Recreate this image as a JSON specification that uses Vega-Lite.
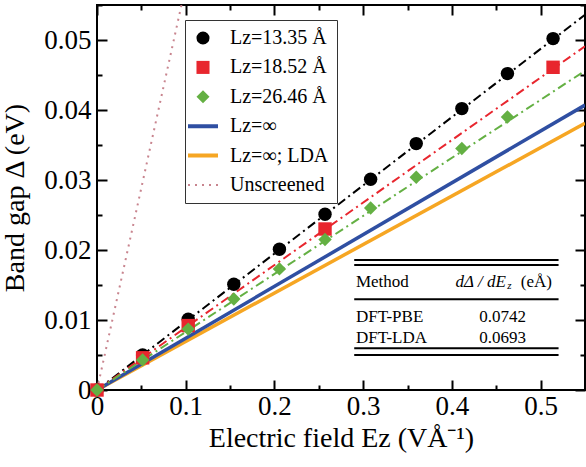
{
  "$schema": "https://vega.github.io/schema/vega-lite/v6.json",
  "width": 488,
  "height": 385,
  "autosize": "none",
  "padding": {"left": 97, "top": 5, "right": 1, "bottom": 77},
  "background": "white",
  "config": {
    "view": {"stroke": "black", "strokeWidth": 2},
    "axis": {
      "labelFont": "Liberation Serif", "labelFontSize": 27, "labelColor": "black",
      "titleFont": "Liberation Serif", "titleFontSize": 28, "titleFontWeight": "normal", "titleColor": "black",
      "tickColor": "black", "tickWidth": 2, "domain": false, "grid": false, "ticks": true
    },
    "legend": {
      "orient": "none", "legendX": 88, "legendY": 15, "title": null,
      "strokeColor": "#333333", "fillColor": "white", "padding": 8,
      "symbolSize": 900, "labelFont": "Liberation Serif", "labelFontSize": 20, "labelColor": "black",
      "labelOffset": 17, "rowPadding": 9.4
    },
    "text": {"font": "Liberation Serif", "fontSize": 17, "color": "black"}
  },
  "data": {"values": [
    {"s": "Lz=13.35 Å", "k": "pt", "x": 0, "y": 0},
    {"s": "Lz=13.35 Å", "k": "pt", "x": 0.0514, "y": 0.0050},
    {"s": "Lz=13.35 Å", "k": "pt", "x": 0.1028, "y": 0.0101},
    {"s": "Lz=13.35 Å", "k": "pt", "x": 0.1542, "y": 0.0151},
    {"s": "Lz=13.35 Å", "k": "pt", "x": 0.2056, "y": 0.0201},
    {"s": "Lz=13.35 Å", "k": "pt", "x": 0.257, "y": 0.0251},
    {"s": "Lz=13.35 Å", "k": "pt", "x": 0.3084, "y": 0.0301},
    {"s": "Lz=13.35 Å", "k": "pt", "x": 0.3598, "y": 0.0352},
    {"s": "Lz=13.35 Å", "k": "pt", "x": 0.4112, "y": 0.0402},
    {"s": "Lz=13.35 Å", "k": "pt", "x": 0.4626, "y": 0.0452},
    {"s": "Lz=13.35 Å", "k": "pt", "x": 0.514, "y": 0.0502},
    {"s": "Lz=18.52 Å", "k": "pt", "x": 0, "y": 0},
    {"s": "Lz=18.52 Å", "k": "pt", "x": 0.0514, "y": 0.0046},
    {"s": "Lz=18.52 Å", "k": "pt", "x": 0.1028, "y": 0.0092},
    {"s": "Lz=18.52 Å", "k": "pt", "x": 0.257, "y": 0.0230},
    {"s": "Lz=18.52 Å", "k": "pt", "x": 0.514, "y": 0.0461},
    {"s": "Lz=26.46 Å", "k": "pt", "x": 0, "y": 0},
    {"s": "Lz=26.46 Å", "k": "pt", "x": 0.0514, "y": 0.0043},
    {"s": "Lz=26.46 Å", "k": "pt", "x": 0.1028, "y": 0.0087},
    {"s": "Lz=26.46 Å", "k": "pt", "x": 0.1542, "y": 0.0130},
    {"s": "Lz=26.46 Å", "k": "pt", "x": 0.2056, "y": 0.0173},
    {"s": "Lz=26.46 Å", "k": "pt", "x": 0.257, "y": 0.0215},
    {"s": "Lz=26.46 Å", "k": "pt", "x": 0.3084, "y": 0.0260},
    {"s": "Lz=26.46 Å", "k": "pt", "x": 0.3598, "y": 0.0304},
    {"s": "Lz=26.46 Å", "k": "pt", "x": 0.4112, "y": 0.0345},
    {"s": "Lz=26.46 Å", "k": "pt", "x": 0.4626, "y": 0.0390},
    {"s": "Lz=13.35 Å", "k": "fit", "x": 0, "y": 0},
    {"s": "Lz=13.35 Å", "k": "fit", "x": 0.55, "y": 0.0536},
    {"s": "Lz=18.52 Å", "k": "fit", "x": 0, "y": 0},
    {"s": "Lz=18.52 Å", "k": "fit", "x": 0.55, "y": 0.0491},
    {"s": "Lz=26.46 Å", "k": "fit", "x": 0, "y": 0},
    {"s": "Lz=26.46 Å", "k": "fit", "x": 0.55, "y": 0.0456},
    {"s": "Lz=∞; LDA", "k": "line", "x": 0, "y": 0},
    {"s": "Lz=∞; LDA", "k": "line", "x": 0.55, "y": 0.0381},
    {"s": "Lz=∞", "k": "line", "x": 0, "y": 0},
    {"s": "Lz=∞", "k": "line", "x": 0.55, "y": 0.0407},
    {"s": "Unscreened", "k": "dot", "x": 0, "y": 0},
    {"s": "Unscreened", "k": "dot", "x": 0.0952, "y": 0.055}
  ]},
  "resolve": {"axis": {"x": "independent", "y": "independent"}},
  "layer": [
    {
      "transform": [{"filter": "datum.k == 'line'"}],
      "mark": {"type": "line", "strokeWidth": 3.5, "clip": true},
      "encoding": {
        "x": {"field": "x", "type": "quantitative",
          "scale": {"domain": [0, 0.55], "nice": false, "zero": false},
          "axis": {
            "orient": "bottom", "values": [0, 0.1, 0.2, 0.3, 0.4, 0.5], "format": "~g",
            "tickSize": -10, "labelPadding": 13, "labelFlush": false, "labelOverlap": false, "labelBound": false,
            "title": "Electric field Ez (VÅ⁻¹)", "titlePadding": 5
          }
        },
        "y": {"field": "y", "type": "quantitative",
          "scale": {"domain": [0, 0.055], "nice": false, "zero": false},
          "axis": {
            "orient": "left", "values": [0, 0.01, 0.02, 0.03, 0.04, 0.05], "format": "~g",
            "tickSize": -10, "labelPadding": 16, "labelFlush": false, "labelOverlap": false, "labelBound": false,
            "title": "Band gap Δ (eV)", "titlePadding": 14
          }
        },
        "color": {"field": "s", "type": "nominal",
          "legend": {
            "orient": "none", "legendX": 88, "legendY": 15,
            "encode": {"symbols": {"update": {
              "shape": {"signal": "scale('shape', datum.value)"},
              "size": {"signal": "indexof(['Lz=∞','Lz=∞; LDA','Unscreened'], datum.value) >= 0 ? 900 : 170"},
              "fill": {"signal": "scale('color', datum.value)"},
              "stroke": {"signal": "scale('color', datum.value)"},
              "strokeWidth": {"signal": "datum.value == 'Unscreened' ? 2 : (indexof(['Lz=∞','Lz=∞; LDA'], datum.value) >= 0 ? 4 : 0)"},
              "strokeDash": {"signal": "datum.value == 'Unscreened' ? [2,5] : [1,0]"},
              "opacity": {"value": 1}
            }}}
          }
        },
        "detail": {"field": "s"}
      }
    },
    {
      "transform": [{"filter": "datum.k == 'fit'"}],
      "mark": {"type": "line", "strokeWidth": 2, "strokeDash": [9, 4, 2, 4], "clip": true},
      "encoding": {
        "x": {"field": "x", "type": "quantitative",
          "axis": {"orient": "top", "labels": false, "title": null, "values": [0, 0.1, 0.2, 0.3, 0.4, 0.5], "tickSize": -10}
        },
        "y": {"field": "y", "type": "quantitative",
          "axis": {"orient": "right", "labels": false, "title": null, "values": [0, 0.01, 0.02, 0.03, 0.04, 0.05], "tickSize": -10}
        },
        "color": {"field": "s", "type": "nominal",
          "legend": {
            "orient": "none", "legendX": 88, "legendY": 15,
            "encode": {"symbols": {"update": {
              "shape": {"signal": "scale('shape', datum.value)"},
              "size": {"signal": "indexof(['Lz=∞','Lz=∞; LDA','Unscreened'], datum.value) >= 0 ? 900 : 170"},
              "fill": {"signal": "scale('color', datum.value)"},
              "stroke": {"signal": "scale('color', datum.value)"},
              "strokeWidth": {"signal": "datum.value == 'Unscreened' ? 2 : (indexof(['Lz=∞','Lz=∞; LDA'], datum.value) >= 0 ? 4 : 0)"},
              "strokeDash": {"signal": "datum.value == 'Unscreened' ? [2,5] : [1,0]"},
              "opacity": {"value": 1}
            }}}
          }
        },
        "detail": {"field": "s"}
      }
    },
    {
      "transform": [{"filter": "datum.k == 'dot'"}],
      "mark": {"type": "line", "strokeWidth": 2, "strokeDash": [2, 5], "clip": true},
      "encoding": {
        "x": {"field": "x", "type": "quantitative",
          "axis": {"orient": "bottom", "labels": false, "title": null, "values": [0.05, 0.15, 0.25, 0.35, 0.45, 0.55], "tickSize": -5}
        },
        "y": {"field": "y", "type": "quantitative",
          "axis": {"orient": "left", "labels": false, "title": null, "values": [0.005, 0.015, 0.025, 0.035, 0.045, 0.055], "tickSize": -5}
        },
        "color": {"field": "s", "type": "nominal",
          "legend": {
            "orient": "none", "legendX": 88, "legendY": 15,
            "encode": {"symbols": {"update": {
              "shape": {"signal": "scale('shape', datum.value)"},
              "size": {"signal": "indexof(['Lz=∞','Lz=∞; LDA','Unscreened'], datum.value) >= 0 ? 900 : 170"},
              "fill": {"signal": "scale('color', datum.value)"},
              "stroke": {"signal": "scale('color', datum.value)"},
              "strokeWidth": {"signal": "datum.value == 'Unscreened' ? 2 : (indexof(['Lz=∞','Lz=∞; LDA'], datum.value) >= 0 ? 4 : 0)"},
              "strokeDash": {"signal": "datum.value == 'Unscreened' ? [2,5] : [1,0]"},
              "opacity": {"value": 1}
            }}}
          }
        }
      }
    },
    {
      "transform": [{"filter": "datum.k == 'pt'"}],
      "mark": {"type": "point", "filled": true, "opacity": 1, "size": 180, "clip": false},
      "encoding": {
        "x": {"field": "x", "type": "quantitative",
          "axis": {"orient": "top", "labels": false, "title": null, "values": [0.05, 0.15, 0.25, 0.35, 0.45, 0.55], "tickSize": -5}
        },
        "y": {"field": "y", "type": "quantitative",
          "axis": {"orient": "right", "labels": false, "title": null, "values": [0.005, 0.015, 0.025, 0.035, 0.045, 0.055], "tickSize": -5}
        },
        "color": {"field": "s", "type": "nominal",
          "scale": {
            "domain": ["Lz=13.35 Å", "Lz=18.52 Å", "Lz=26.46 Å", "Lz=∞", "Lz=∞; LDA", "Unscreened"],
            "range": ["#000000", "#e8262e", "#64b043", "#2f4fa2", "#f6a623", "#c8848e"]
          },
          "legend": {
            "orient": "none", "legendX": 88, "legendY": 15,
            "encode": {"symbols": {"update": {
              "shape": {"signal": "scale('shape', datum.value)"},
              "size": {"signal": "indexof(['Lz=∞','Lz=∞; LDA','Unscreened'], datum.value) >= 0 ? 900 : 170"},
              "fill": {"signal": "scale('color', datum.value)"},
              "stroke": {"signal": "scale('color', datum.value)"},
              "strokeWidth": {"signal": "datum.value == 'Unscreened' ? 2 : (indexof(['Lz=∞','Lz=∞; LDA'], datum.value) >= 0 ? 4 : 0)"},
              "strokeDash": {"signal": "datum.value == 'Unscreened' ? [2,5] : [1,0]"},
              "opacity": {"value": 1}
            }}}
          }
        },
        "shape": {"field": "s", "type": "nominal",
          "scale": {
            "domain": ["Lz=13.35 Å", "Lz=18.52 Å", "Lz=26.46 Å", "Lz=∞", "Lz=∞; LDA", "Unscreened"],
            "range": ["circle", "square", "diamond", "stroke", "stroke", "stroke"]
          }
        }
      }
    },
    {"data": {"values": [{}]}, "mark": {"type": "rule", "strokeWidth": 2, "color": "black"},
     "encoding": {"x": {"datum": 0.2899, "type": "quantitative", "axis": null}, "x2": {"datum": 0.5202}, "y": {"datum": 0.01857, "type": "quantitative", "axis": null}}},
    {"data": {"values": [{}]}, "mark": {"type": "rule", "strokeWidth": 2, "color": "black"},
     "encoding": {"x": {"datum": 0.2899, "type": "quantitative", "axis": null}, "x2": {"datum": 0.5202}, "y": {"datum": 0.01786, "type": "quantitative", "axis": null}}},
    {"data": {"values": [{}]}, "mark": {"type": "rule", "strokeWidth": 2, "color": "black"},
     "encoding": {"x": {"datum": 0.2899, "type": "quantitative", "axis": null}, "x2": {"datum": 0.5202}, "y": {"datum": 0.01296, "type": "quantitative", "axis": null}}},
    {"data": {"values": [{}]}, "mark": {"type": "rule", "strokeWidth": 2, "color": "black"},
     "encoding": {"x": {"datum": 0.2899, "type": "quantitative", "axis": null}, "x2": {"datum": 0.5202}, "y": {"datum": 0.00596, "type": "quantitative", "axis": null}}},
    {"data": {"values": [{}]}, "mark": {"type": "rule", "strokeWidth": 2, "color": "black"},
     "encoding": {"x": {"datum": 0.2899, "type": "quantitative", "axis": null}, "x2": {"datum": 0.5202}, "y": {"datum": 0.00500, "type": "quantitative", "axis": null}}},
    {"data": {"values": [{}]}, "mark": {"type": "text", "align": "left", "baseline": "middle"},
     "encoding": {"x": {"datum": 0.2918, "type": "quantitative", "axis": null}, "y": {"datum": 0.01547, "type": "quantitative", "axis": null}, "text": {"value": "Method"}}},
    {"data": {"values": [{}]}, "mark": {"type": "text", "align": "left", "baseline": "middle", "fontStyle": "italic"},
     "encoding": {"x": {"datum": 0.4041, "type": "quantitative", "axis": null}, "y": {"datum": 0.01547, "type": "quantitative", "axis": null}, "text": {"value": "dΔ / dE"}}},
    {"data": {"values": [{}]}, "mark": {"type": "text", "align": "left", "baseline": "middle", "fontStyle": "italic", "fontSize": 11},
     "encoding": {"x": {"datum": 0.4625, "type": "quantitative", "axis": null}, "y": {"datum": 0.0148, "type": "quantitative", "axis": null}, "text": {"value": "z"}}},
    {"data": {"values": [{}]}, "mark": {"type": "text", "align": "right", "baseline": "middle"},
     "encoding": {"x": {"datum": 0.5127, "type": "quantitative", "axis": null}, "y": {"datum": 0.01547, "type": "quantitative", "axis": null}, "text": {"value": "(eÅ)"}}},
    {"data": {"values": [{}]}, "mark": {"type": "text", "align": "left", "baseline": "middle"},
     "encoding": {"x": {"datum": 0.2918, "type": "quantitative", "axis": null}, "y": {"datum": 0.01047, "type": "quantitative", "axis": null}, "text": {"value": "DFT-PBE"}}},
    {"data": {"values": [{}]}, "mark": {"type": "text", "align": "left", "baseline": "middle"},
     "encoding": {"x": {"datum": 0.2918, "type": "quantitative", "axis": null}, "y": {"datum": 0.00743, "type": "quantitative", "axis": null}, "text": {"value": "DFT-LDA"}}},
    {"data": {"values": [{}]}, "mark": {"type": "text", "align": "center", "baseline": "middle"},
     "encoding": {"x": {"datum": 0.4573, "type": "quantitative", "axis": null}, "y": {"datum": 0.01047, "type": "quantitative", "axis": null}, "text": {"value": "0.0742"}}},
    {"data": {"values": [{}]}, "mark": {"type": "text", "align": "center", "baseline": "middle"},
     "encoding": {"x": {"datum": 0.4573, "type": "quantitative", "axis": null}, "y": {"datum": 0.00743, "type": "quantitative", "axis": null}, "text": {"value": "0.0693"}}}
  ]
}
